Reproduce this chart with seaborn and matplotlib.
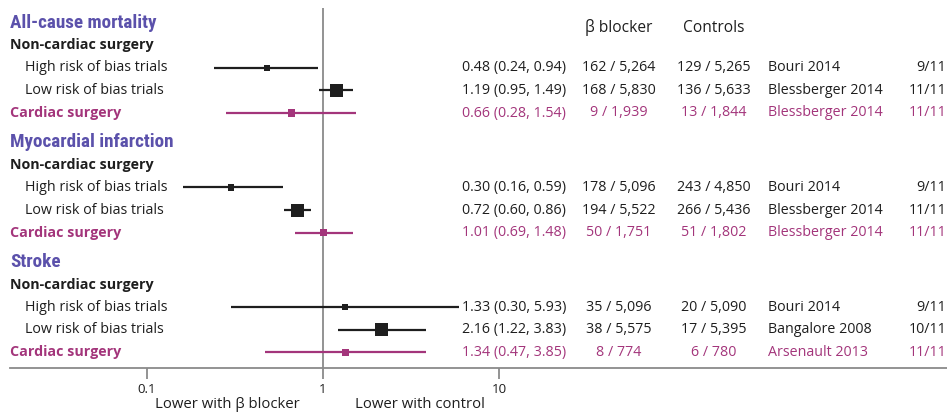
import matplotlib
matplotlib.use("Agg")
import matplotlib.pyplot as plt
import matplotlib.transforms as mtransforms
from matplotlib import font_manager
import seaborn as sns
import pandas as pd
import os

# ---------------- data ----------------
outcomes = ["All-cause mortality", "Myocardial infarction", "Stroke"]
subgroups = ["High risk of bias trials", "Low risk of bias trials", "Cardiac surgery"]
or_est = [0.48, 1.19, 0.66, 0.30, 0.72, 1.01, 1.33, 2.16, 1.34]
ci_lo = [0.24, 0.95, 0.28, 0.16, 0.60, 0.69, 0.30, 1.22, 0.47]
ci_hi = [0.94, 1.49, 1.54, 0.59, 0.86, 1.48, 5.93, 3.83, 3.85]
bb_events = [162, 168, 9, 178, 194, 50, 35, 38, 8]
bb_total = [5264, 5830, 1939, 5096, 5522, 1751, 5096, 5575, 774]
ctrl_events = [129, 136, 13, 243, 266, 51, 20, 17, 6]
ctrl_total = [5265, 5633, 1844, 4850, 5436, 1802, 5090, 5395, 780]
study = ["Bouri 2014", "Blessberger 2014", "Blessberger 2014",
         "Bouri 2014", "Blessberger 2014", "Blessberger 2014",
         "Bouri 2014", "Bangalore 2008", "Arsenault 2013"]
quality = ["9/11", "11/11", "11/11", "9/11", "11/11", "11/11", "9/11", "10/11", "11/11"]
tick_values = [0.1, 1, 10]
tick_labels = ["0.1", "1", "10"]
col_headers = ["β blocker", "Controls"]
direction_labels = ["Lower with β blocker", "Lower with control"]
noncardiac_label = "Non-cardiac surgery"

# ---------------- styles ----------------
sns.set_theme(style="white")
BODY = ["Open Sans", "DejaVu Sans"]
plt.rcParams["font.family"] = BODY

# pick a condensed bold face for section titles if one is installed
TITLE = ["Roboto Condensed", "Open Sans Condensed", "Noto Sans", "Open Sans"]
fp = font_manager.FontProperties(family=TITLE, weight="bold", stretch="condensed")
found = os.path.basename(font_manager.findfont(fp, fallback_to_default=True)).lower()
is_cond = ("condensed" in found) or ("narrow" in found)
TITLE_FS = 13.8 if is_cond else 11.6

C_TITLE = "#5b51ab"
C_CARD = "#a3357b"
C_TEXT = "#1e1e1e"
C_GRID = "#8a8a8a"
FS = 10.3

W, H = 947, 412
fig = plt.figure(figsize=(W / 100, H / 100), dpi=100)
ax_left, ax_right, ax_top, ax_bot = 10, 947, 8, 368
ax = fig.add_axes([ax_left / W, (H - ax_bot) / H, (ax_right - ax_left) / W, (ax_bot - ax_top) / H])

# log scale mapping: 1 at x=323 px, one decade = 176 px
x_one, decade = 323, 176
ax.set_xscale("log")
ax.set_xlim(10 ** ((ax_left - x_one) / decade), 10 ** ((ax_right - x_one) / decade))
ax.set_ylim(ax_bot, ax_top)

# row layout (15 rows: 3 sections x [title, non-cardiac, high, low, cardiac])
row_start, row_step, section_gap = 22.6, 22.6, 6.7
def row_y(sec, k):
    return row_start + row_step * (sec * 5 + k) + section_gap * sec

# ---------------- dataframe for marks ----------------
recs = []
for s, oc in enumerate(outcomes):
    for j, sg in enumerate(subgroups):
        i = s * 3 + j
        recs.append(dict(outcome=oc, subgroup=sg, y=row_y(s, j + 2),
                         est=or_est[i], lo=ci_lo[i], hi=ci_hi[i],
                         group="Cardiac" if j == 2 else "Non-cardiac"))
df = pd.DataFrame(recs)

palette = {"Non-cardiac": C_TEXT, "Cardiac": C_CARD}
size_map = {"High risk of bias trials": 20, "Low risk of bias trials": 90, "Cardiac surgery": 28}

ax.axvline(1, color=C_GRID, lw=1.3, zorder=1)
for g, sub in df.groupby("group"):
    ax.hlines(sub["y"], sub["lo"], sub["hi"], color=palette[g], lw=1.6, zorder=2)
sns.scatterplot(data=df, x="est", y="y", hue="group", palette=palette,
                size="subgroup", sizes=size_map, marker="s", edgecolor="none",
                legend=False, ax=ax, zorder=3)

# ---------------- axes styling ----------------
for sp in ["top", "right", "left"]:
    ax.spines[sp].set_visible(False)
ax.spines["bottom"].set_color(C_GRID)
ax.spines["bottom"].set_linewidth(1.3)
ax.set_xticks(tick_values)
ax.set_xticklabels(tick_labels)
ax.xaxis.set_minor_locator(matplotlib.ticker.NullLocator())
ax.tick_params(axis="x", direction="out", length=8, width=1.3, color=C_GRID,
               labelsize=9.6, labelcolor=C_TEXT, pad=3, bottom=True)
ax.set_yticks([])
ax.set_xlabel("")
ax.set_ylabel("")

# ---------------- text columns ----------------
tr = mtransforms.blended_transform_factory(fig.transFigure, ax.transData)
def px(x):
    return x / W

x_label, x_sub, x_est, x_bb, x_ctrl, x_study, x_q = 10, 25, 462, 619, 714, 768, 946

for s, oc in enumerate(outcomes):
    ax.text(px(x_label), row_y(s, 0), oc, transform=tr, ha="left", va="center",
            fontsize=TITLE_FS, fontweight="bold", fontstretch="condensed",
            color=C_TITLE, family=TITLE)
    ax.text(px(x_label), row_y(s, 1), noncardiac_label, transform=tr, ha="left", va="center",
            fontsize=FS, fontweight="bold", color=C_TEXT)
    for j, sg in enumerate(subgroups):
        i = s * 3 + j
        y = row_y(s, j + 2)
        col = C_CARD if j == 2 else C_TEXT
        if j == 2:
            ax.text(px(x_label), y, sg, transform=tr, ha="left", va="center",
                    fontsize=FS, fontweight="bold", color=col)
        else:
            ax.text(px(x_sub), y, sg, transform=tr, ha="left", va="center",
                    fontsize=FS, color=col)
        ax.text(px(x_est), y, f"{or_est[i]:.2f} ({ci_lo[i]:.2f}, {ci_hi[i]:.2f})",
                transform=tr, ha="left", va="center", fontsize=FS, color=col)
        ax.text(px(x_bb), y, f"{bb_events[i]} / {bb_total[i]:,}", transform=tr,
                ha="center", va="center", fontsize=FS, color=col)
        ax.text(px(x_ctrl), y, f"{ctrl_events[i]} / {ctrl_total[i]:,}", transform=tr,
                ha="center", va="center", fontsize=FS, color=col)
        ax.text(px(x_study), y, study[i], transform=tr, ha="left", va="center",
                fontsize=FS, color=col)
        ax.text(px(x_q), y, quality[i], transform=tr, ha="right", va="center",
                fontsize=FS, color=col)

ax.text(px(x_bb), 28, col_headers[0], transform=tr, ha="center", va="center",
        fontsize=11.2, color=C_TEXT)
ax.text(px(x_ctrl), 28, col_headers[1], transform=tr, ha="center", va="center",
        fontsize=11.2, color=C_TEXT)

fig.text(300 / W, (H - 405) / H, direction_labels[0], ha="right", va="center",
         fontsize=10.7, color=C_TEXT)
fig.text(355 / W, (H - 405) / H, direction_labels[1], ha="left", va="center",
         fontsize=10.7, color=C_TEXT)

fig.savefig("out.png", dpi=100, facecolor="white")
